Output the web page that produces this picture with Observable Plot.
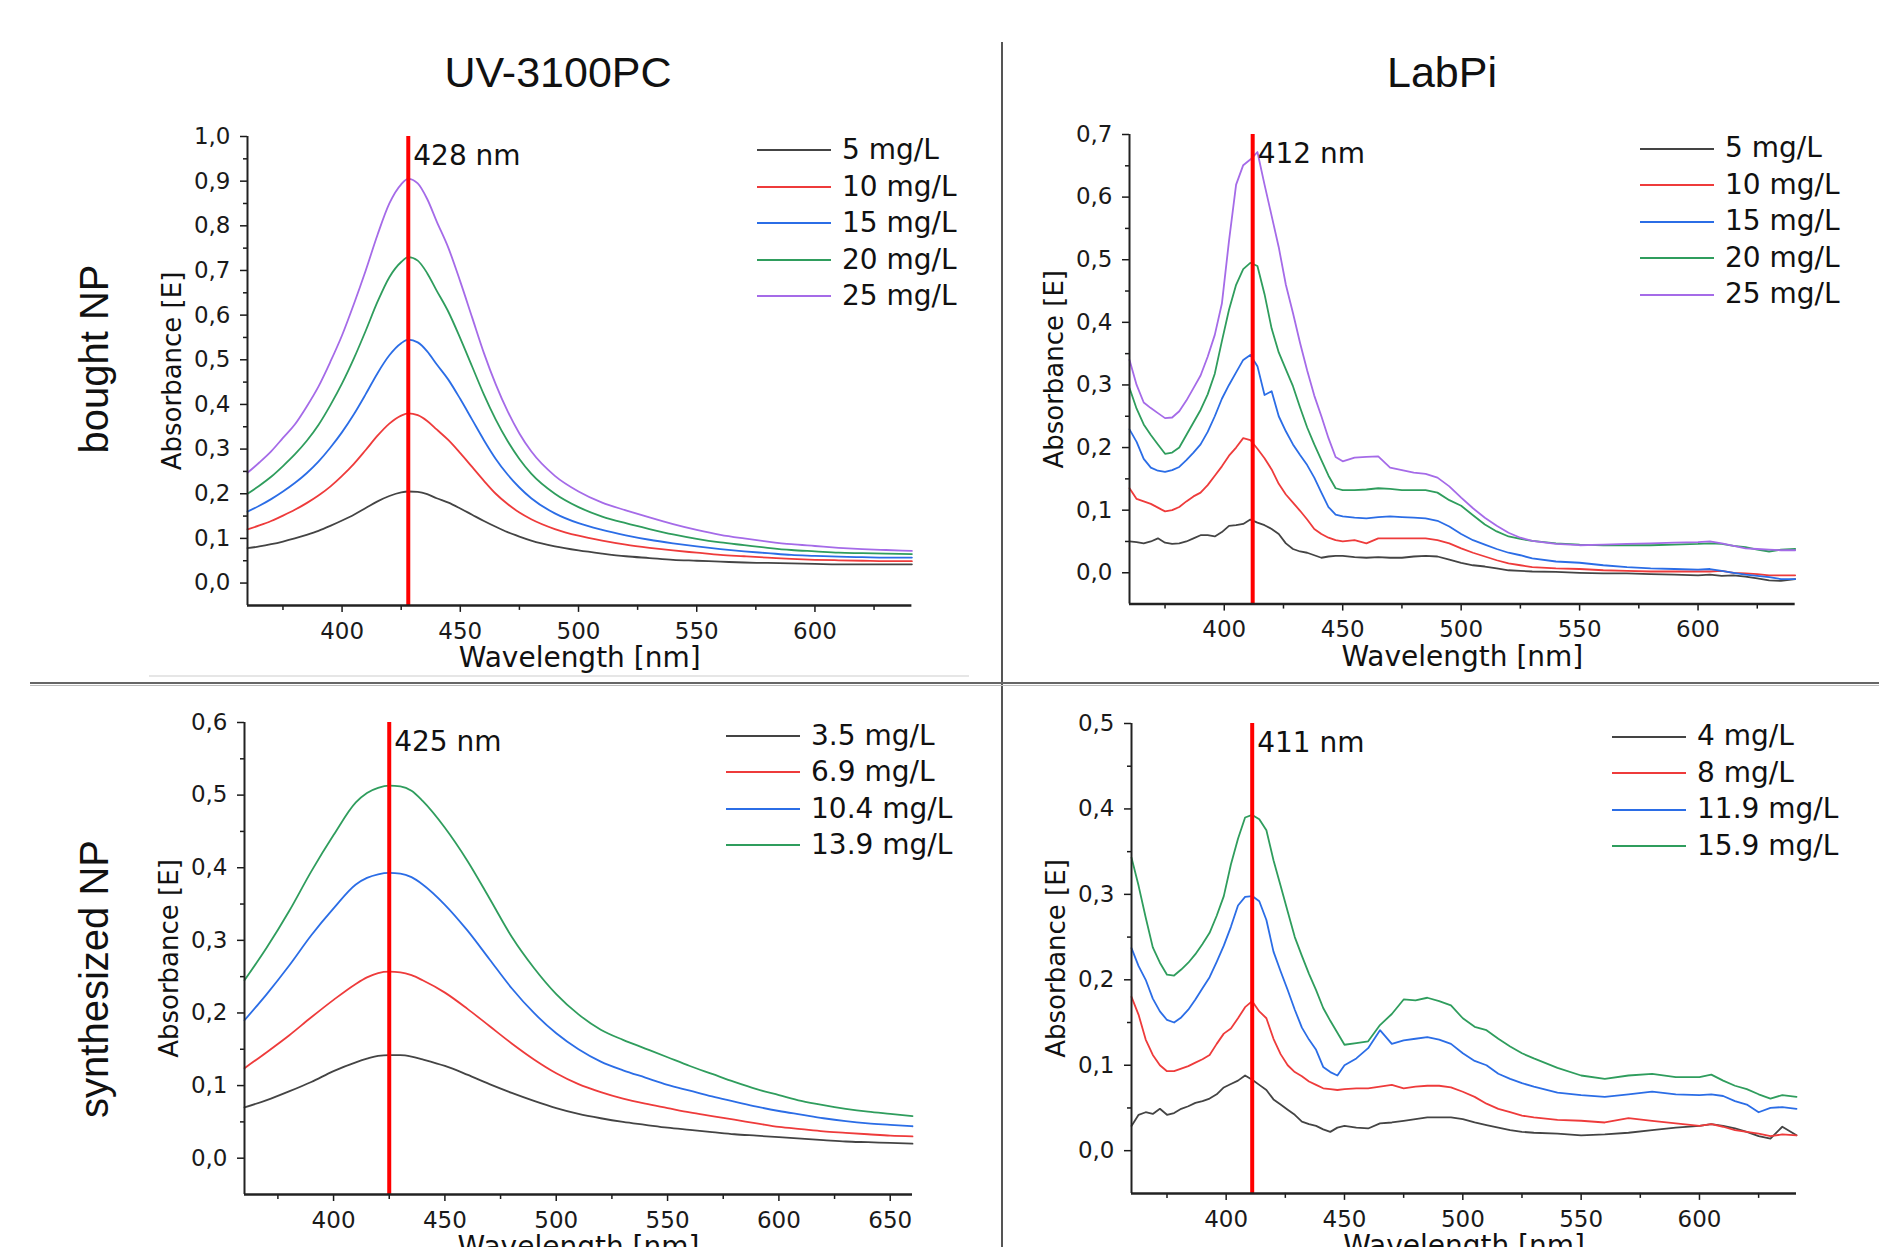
<!DOCTYPE html>
<html>
<head>
<meta charset="utf-8">
<script src="https://cdn.jsdelivr.net/npm/d3@7"></script>
<script src="https://cdn.jsdelivr.net/npm/@observablehq/plot@0.6"></script>
<style>
html, body { margin: 0; padding: 0; background: #fff; overflow: hidden; }
#page { position: relative; width: 1879px; height: 1247px; overflow: hidden; background: #fff; color: #111; font-family: "DejaVu Sans", sans-serif; }
.abs { position: absolute; }
.hdr { font-family: "Liberation Sans", Arial, sans-serif; font-size: 43px; line-height: 43px; white-space: nowrap; transform: translateX(-50%); }
.row { font-family: "Liberation Sans", Arial, sans-serif; font-size: 40px; line-height: 40px; white-space: nowrap; transform: translate(-50%, -50%) rotate(-90deg); }
.leg-row { display: flex; align-items: center; height: 36.5px; }
.leg-line { display: inline-block; width: 74px; height: 2px; margin-right: 11px; }
.leg-text { font-size: 28px; line-height: 36.5px; white-space: nowrap; }
</style>
</head>
<body>
<div id="page"></div>
<script>
// ---------- column / row titles ----------
const columnTitles = ["UV-3100PC", "LabPi"];
const rowTitles = ["bought NP", "synthesized NP"];
const seriesColors = ["#444444", "#ee3b3b", "#2b6de6", "#2f9d5d", "#a56be8"];
const peakWavelengths = [428, 412, 425, 411];
const xLabel = "Wavelength [nm]";
const yLabel = "Absorbance [E]";

// ---------- panel 1: UV-3100PC, bought NP ----------
const p1Labels = ["5 mg/L", "10 mg/L", "15 mg/L", "20 mg/L", "25 mg/L"];
const p1Wavelength = [360,365,370,375,380,385,390,395,400,405,410,415,420,425,428,432,436,440,445,450,455,460,465,470,475,480,490,500,510,520,530,540,550,560,570,580,590,600,610,620,630,641];
const p1_5 = [.078,.082,.087,.093,.10,.108,.117,.128,.14,.153,.168,.183,.195,.203,.205,.204,.199,.19,.18,.167,.153,.139,.126,.114,.104,.095,.082,.073,.066,.06,.056,.052,.05,.048,.046,.045,.044,.043,.042,.042,.042,.042];
const p1_10 = [.12,.129,.139,.151,.164,.179,.196,.216,.24,.267,.298,.33,.357,.375,.38,.376,.363,.344,.32,.291,.26,.229,.2,.177,.158,.143,.121,.106,.095,.086,.079,.073,.068,.063,.06,.057,.054,.052,.051,.05,.049,.049];
const p1_15 = [.16,.173,.188,.205,.224,.246,.272,.303,.338,.378,.423,.47,.51,.537,.545,.539,.519,.49,.455,.412,.366,.32,.278,.243,.214,.19,.156,.134,.119,.107,.097,.089,.082,.076,.071,.067,.063,.061,.059,.058,.057,.057];
const p1_20 = [.20,.218,.238,.262,.288,.318,.354,.398,.447,.503,.565,.63,.685,.719,.73,.722,.694,.655,.607,.548,.485,.422,.366,.318,.278,.245,.2,.17,.149,.134,.121,.109,.099,.091,.085,.079,.074,.071,.068,.067,.066,.065];
const p1_25 = [.247,.27,.295,.325,.355,.395,.44,.495,.555,.625,.70,.78,.85,.893,.905,.895,.86,.81,.75,.675,.595,.515,.445,.385,.335,.295,.24,.205,.18,.163,.147,.132,.119,.108,.100,.093,.087,.083,.079,.076,.074,.072];
const p1XDomain = [360, 641];
const p1YDomain = [-0.05, 1.0];
const p1YTicks = [0,0.1,0.2,0.3,0.4,0.5,0.6,0.7,0.8,0.9,1.0];
const p1YMinor = [0.05,0.15,0.25,0.35,0.45,0.55,0.65,0.75,0.85,0.95];
const p1XTicks = [400,450,500,550,600];
const p1XMinor = [375,425,475,525,575,625];

// ---------- panel 2: LabPi, bought NP ----------
const p2Labels = ["5 mg/L", "10 mg/L", "15 mg/L", "20 mg/L", "25 mg/L"];
const p2Wavelength = [360,363,366,369,372,375,378,381,384,387,390,393,396,399,402,405,408,411,414,417,420,423,426,429,432,435,438,441,444,447,450,455,460,465,470,475,480,485,490,495,500,505,510,515,520,525,530,540,550,560,570,580,590,600,605,610,615,620,625,630,635,641];
const p2_5 = [.05,.049,.047,.05,.055,.048,.046,.047,.05,.055,.06,.06,.058,.065,.075,.076,.078,.085,.08,.076,.07,.062,.047,.038,.034,.032,.028,.024,.026,.027,.027,.025,.024,.025,.024,.024,.026,.027,.026,.021,.016,.012,.01,.007,.004,.003,.002,.0015,0,-.001,-.001,-.002,-.003,-.004,-.003,-.005,-.004,-.006,-.009,-.012,-.013,-.01];
const p2_10 = [.135,.118,.114,.11,.104,.098,.1,.105,.114,.122,.128,.14,.155,.17,.187,.2,.215,.212,.198,.183,.165,.142,.125,.112,.099,.085,.07,.062,.056,.052,.05,.052,.047,.055,.055,.055,.055,.055,.052,.047,.039,.032,.026,.02,.015,.012,.009,.007,.006,.004,.003,.002,.002,.002,.002,.003,0,-.001,-.002,-.004,-.004,-.004];
const p2_15 = [.229,.209,.182,.168,.163,.161,.164,.169,.18,.192,.205,.225,.25,.278,.30,.32,.34,.348,.33,.284,.29,.25,.226,.205,.188,.172,.152,.128,.105,.093,.09,.088,.087,.089,.09,.089,.088,.087,.083,.074,.062,.052,.045,.038,.032,.028,.023,.018,.016,.012,.009,.007,.006,.005,.006,.003,0,-.003,-.005,-.007,-.01,-.01];
const p2_20 = [.295,.262,.237,.22,.205,.19,.192,.2,.22,.24,.26,.285,.318,.37,.42,.46,.485,.495,.49,.445,.39,.352,.325,.298,.264,.232,.205,.18,.155,.135,.132,.132,.133,.135,.134,.132,.132,.132,.128,.116,.107,.092,.077,.066,.058,.054,.051,.047,.045,.044,.044,.044,.045,.046,.047,.046,.043,.041,.037,.034,.037,.038];
const p2_25 = [.34,.30,.272,.263,.255,.247,.248,.258,.275,.295,.315,.345,.38,.43,.53,.62,.651,.66,.672,.62,.57,.52,.46,.415,.367,.323,.283,.25,.215,.185,.178,.184,.185,.186,.168,.164,.16,.158,.152,.138,.12,.103,.088,.075,.064,.056,.051,.046,.044,.045,.046,.047,.048,.049,.05,.047,.043,.039,.038,.037,.036,.036];
const p2XDomain = [360, 641];
const p2YDomain = [-0.05, 0.7];
const p2YTicks = [0,0.1,0.2,0.3,0.4,0.5,0.6,0.7];
const p2YMinor = [0.05,0.15,0.25,0.35,0.45,0.55,0.65];
const p2XTicks = [400,450,500,550,600];
const p2XMinor = [375,425,475,525,575,625];

// ---------- panel 3: UV-3100PC, synthesized NP ----------
const p3Labels = ["3.5 mg/L", "6.9 mg/L", "10.4 mg/L", "13.9 mg/L"];
const p3Wavelength = [360,370,380,390,400,410,415,420,425,430,435,440,450,460,470,480,490,500,510,520,530,540,550,560,570,580,590,600,610,620,630,640,650,660];
const p3_35 = [.07,.08,.092,.105,.12,.132,.137,.141,.142,.142,.14,.136,.127,.115,.102,.09,.079,.069,.061,.055,.05,.046,.042,.039,.036,.033,.031,.029,.027,.025,.023,.022,.021,.020];
const p3_69 = [.124,.146,.169,.194,.218,.24,.249,.255,.257,.256,.252,.245,.228,.206,.182,.158,.136,.117,.102,.091,.082,.075,.069,.063,.058,.053,.048,.043,.04,.037,.035,.033,.031,.030];
const p3_104 = [.19,.226,.265,.307,.344,.377,.386,.391,.393,.392,.387,.377,.349,.314,.274,.234,.2,.172,.15,.133,.121,.111,.101,.093,.085,.078,.071,.065,.06,.055,.051,.048,.046,.044];
const p3_139 = [.245,.29,.34,.395,.445,.49,.503,.51,.513,.512,.506,.492,.455,.41,.358,.305,.262,.226,.198,.177,.163,.151,.139,.127,.116,.105,.095,.087,.079,.073,.068,.064,.061,.058];
const p3XDomain = [360, 660];
const p3YDomain = [-0.05, 0.6];
const p3YTicks = [0,0.1,0.2,0.3,0.4,0.5,0.6];
const p3YMinor = [0.05,0.15,0.25,0.35,0.45,0.55];
const p3XTicks = [400,450,500,550,600,650];
const p3XMinor = [375,425,475,525,575,625];

// ---------- panel 4: LabPi, synthesized NP ----------
const p4Labels = ["4 mg/L", "8 mg/L", "11.9 mg/L", "15.9 mg/L"];
const p4Wavelength = [360,363,366,369,372,375,378,381,384,387,390,393,396,399,402,405,408,411,414,417,420,423,426,429,432,435,438,441,444,447,450,455,460,465,470,475,480,485,490,495,500,505,510,515,520,525,530,540,550,560,570,580,590,600,605,610,615,620,625,630,635,641];
const p4_4 = [.029,.042,.045,.043,.049,.042,.044,.049,.052,.056,.058,.061,.066,.074,.078,.082,.088,.083,.077,.071,.06,.054,.048,.042,.034,.031,.029,.025,.022,.027,.029,.027,.026,.032,.033,.035,.037,.039,.039,.039,.037,.033,.03,.027,.024,.022,.021,.02,.018,.019,.021,.024,.027,.029,.031,.029,.026,.022,.017,.014,.028,.018];
const p4_8 = [.18,.159,.13,.112,.1,.093,.093,.096,.099,.103,.107,.112,.125,.137,.143,.155,.168,.175,.163,.155,.131,.113,.1,.092,.087,.081,.077,.073,.072,.071,.072,.073,.073,.075,.077,.073,.075,.076,.076,.074,.069,.063,.055,.049,.045,.041,.039,.036,.035,.033,.038,.035,.032,.029,.031,.028,.024,.022,.02,.017,.019,.018];
const p4_119 = [.237,.216,.2,.178,.163,.153,.15,.156,.165,.177,.19,.203,.221,.24,.262,.287,.297,.298,.292,.27,.233,.21,.188,.165,.144,.13,.118,.098,.092,.088,.1,.108,.12,.141,.125,.129,.131,.133,.13,.125,.114,.105,.1,.09,.084,.079,.075,.068,.065,.063,.066,.069,.066,.065,.066,.064,.058,.054,.045,.05,.051,.049];
const p4_159 = [.343,.31,.273,.238,.22,.206,.205,.212,.22,.23,.242,.255,.275,.298,.335,.365,.39,.393,.388,.375,.34,.31,.28,.25,.228,.207,.188,.167,.152,.138,.124,.126,.128,.147,.16,.177,.176,.179,.175,.17,.155,.145,.141,.131,.122,.114,.108,.097,.088,.084,.088,.09,.086,.086,.089,.082,.076,.072,.066,.061,.065,.063];
const p4XDomain = [360, 641];
const p4YDomain = [-0.05, 0.5];
const p4YTicks = [0,0.1,0.2,0.3,0.4,0.5];
const p4YMinor = [0.05,0.15,0.25,0.35,0.45];
const p4XTicks = [400,450,500,550,600];
const p4XMinor = [375,425,475,525,575,625];

// ---------- layout ----------
const page = document.getElementById("page");

function addDiv(cls, css, text) {
  const d = document.createElement("div");
  d.className = cls;
  Object.assign(d.style, css);
  if (text != null) d.textContent = text;
  page.appendChild(d);
  return d;
}

function panel(cfg) {
  const {wl, series, labels, xDomain, yDomain, yTicks, yMinor, xTicks, xMinor, peak, frame, legend, curve} = cfg;
  const rows = series.flatMap((vals, i) => vals.map((v, j) => ({wl: wl[j], a: v, s: labels[i]})));
  const ml = 120, mt = 30, mr = 20, mb = 75;
  const w = frame.right - frame.left + ml + mr;
  const h = frame.bottom - frame.top + mt + mb;
  const fmt = d => d.toFixed(1).replace(".", ",");
  const chart = Plot.plot({
    width: w, height: h,
    marginLeft: ml, marginTop: mt, marginRight: mr, marginBottom: mb,
    style: {fontFamily: "DejaVu Sans", fontSize: "23px", color: "#1a1a1a", background: "transparent", overflow: "visible"},
    x: {domain: xDomain, label: null},
    y: {domain: yDomain, label: null},
    color: {domain: labels, range: seriesColors.slice(0, labels.length)},
    marks: [
      Plot.line(rows, {x: "wl", y: "a", z: "s", stroke: "s", strokeWidth: 1.8, curve}),
      Plot.ruleX([peak], {stroke: "#ff0000", strokeWidth: 4}),
      Plot.text([peak], {x: d => d, frameAnchor: "top", lineAnchor: "top", textAnchor: "start", dx: 5, dy: 9, text: d => `${d} nm`, fontSize: 28, fill: "#111"}),
      Plot.axisX(xTicks, {tickSize: 7, tickPadding: 10, tickFormat: d => String(d), label: null, strokeWidth: 1.5, fontSize: 23}),
      Plot.axisX(xMinor, {tickSize: 5, tickFormat: () => "", label: null, strokeWidth: 1.5}),
      Plot.axisY(yTicks, {tickSize: 7, tickPadding: 10, tickFormat: fmt, label: null, strokeWidth: 1.5, fontSize: 23}),
      Plot.axisY(yMinor, {tickSize: 4, tickFormat: () => "", label: null, strokeWidth: 1.5}),
      Plot.ruleX([xDomain[0]], {stroke: "#222", strokeWidth: 2}),
      Plot.ruleY([yDomain[0]], {stroke: "#222", strokeWidth: 2.5}),
      Plot.text([xLabel], {text: d => d, frameAnchor: "bottom", lineAnchor: "middle", textAnchor: "middle", dy: 53, fontSize: 28, fill: "#111"}),
      Plot.text([yLabel], {text: d => d, frameAnchor: "left", lineAnchor: "middle", textAnchor: "middle", rotate: -90, dx: -75, fontSize: 26, fill: "#111"})
    ]
  });
  const holder = addDiv("abs", {left: (frame.left - ml) + "px", top: (frame.top - mt) + "px"});
  holder.appendChild(chart);

  // legend
  const lg = addDiv("abs", {left: legend.x + "px", top: (legend.y - 18.25) + "px"});
  labels.forEach((lab, i) => {
    const r = document.createElement("div");
    r.className = "leg-row";
    const ln = document.createElement("span");
    ln.className = "leg-line";
    ln.style.background = seriesColors[i];
    const tx = document.createElement("span");
    tx.className = "leg-text";
    tx.textContent = lab;
    r.appendChild(ln); r.appendChild(tx);
    lg.appendChild(r);
  });
}

// separators
addDiv("abs", {left: "1001px", top: "42px", width: "1.5px", height: "1205px", background: "#555"});
addDiv("abs", {left: "30px", top: "682px", width: "1849px", height: "2px", background: "#666"});
addDiv("abs", {left: "30px", top: "685px", width: "1849px", height: "1px", background: "#bbb"});
addDiv("abs", {left: "149px", top: "675px", width: "820px", height: "2px", background: "#e6e6e6"});

// titles
addDiv("abs hdr", {left: "558px", top: "51px"}, columnTitles[0]);
addDiv("abs hdr", {left: "1442px", top: "51px"}, columnTitles[1]);
addDiv("abs row", {left: "94px", top: "359px"}, rowTitles[0]);
addDiv("abs row", {left: "94px", top: "979px"}, rowTitles[1]);

panel({wl: p1Wavelength, series: [p1_5, p1_10, p1_15, p1_20, p1_25], labels: p1Labels,
  xDomain: p1XDomain, yDomain: p1YDomain, yTicks: p1YTicks, yMinor: p1YMinor, xTicks: p1XTicks, xMinor: p1XMinor,
  peak: peakWavelengths[0], frame: {left: 247.3, right: 911.7, top: 136.1, bottom: 605}, legend: {x: 757, y: 150.4}, curve: "monotone-x"});
panel({wl: p2Wavelength, series: [p2_5, p2_10, p2_15, p2_20, p2_25], labels: p2Labels,
  xDomain: p2XDomain, yDomain: p2YDomain, yTicks: p2YTicks, yMinor: p2YMinor, xTicks: p2XTicks, xMinor: p2XMinor,
  peak: peakWavelengths[1], frame: {left: 1129.3, right: 1795, top: 134.3, bottom: 603.9}, legend: {x: 1640, y: 148.6}, curve: "linear"});
panel({wl: p3Wavelength, series: [p3_35, p3_69, p3_104, p3_139], labels: p3Labels,
  xDomain: p3XDomain, yDomain: p3YDomain, yTicks: p3YTicks, yMinor: p3YMinor, xTicks: p3XTicks, xMinor: p3XMinor,
  peak: peakWavelengths[2], frame: {left: 243.7, right: 911.7, top: 721.6, bottom: 1193.6}, legend: {x: 726, y: 735.9}, curve: "monotone-x"});
panel({wl: p4Wavelength, series: [p4_4, p4_8, p4_119, p4_159], labels: p4Labels,
  xDomain: p4XDomain, yDomain: p4YDomain, yTicks: p4YTicks, yMinor: p4YMinor, xTicks: p4XTicks, xMinor: p4XMinor,
  peak: peakWavelengths[3], frame: {left: 1130.7, right: 1795.7, top: 722.7, bottom: 1192.6}, legend: {x: 1612, y: 736.6}, curve: "linear"});
</script>
</body>
</html>
